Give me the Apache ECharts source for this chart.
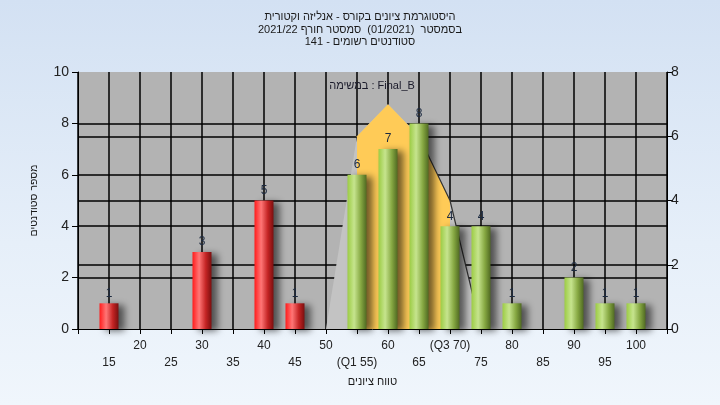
<!DOCTYPE html>
<html>
<head>
<meta charset="utf-8">
<script src="https://cdn.jsdelivr.net/npm/echarts@6/dist/echarts.min.js"></script>
<style>
html,body{margin:0;padding:0;}
#c{width:720px;height:405px;background:linear-gradient(to bottom,#d3e1f3 0%,#e6eff9 60%,#f0f6fc 100%);}
</style>
</head>
<body>
<div id="c"></div>
<script>
// ---- data ----
const titleLines = ['היסטוגרמת ציונים בקורס - אנליזה וקטורית', 'בסמסטר  (01/2021)  סמסטר חורף 2021/22', 'סטודנטים רשומים - 141'];
const taskLabel = 'במשימה : Final_B';
const xAxisName = 'טווח ציונים';
const yAxisName = 'מספר סטודנטים';
const xTicks = [15, 20, 25, 30, 35, 40, 45, 50, 55, 60, 65, 70, 75, 80, 85, 90, 95, 100];
const xTickLabels = ['15', '20', '25', '30', '35', '40', '45', '50', '(Q1 55)', '60', '65', '(Q3 70)', '75', '80', '85', '90', '95', '100'];
const redBins = [15, 30, 40, 45];
const redCounts = [1, 3, 5, 1];
const greenBins = [55, 60, 65, 70, 75, 80, 90, 95, 100];
const greenCounts = [6, 7, 8, 4, 4, 1, 2, 1, 1];
const curveX = [50, 55, 60, 65, 70, 75];
const curveY = [0, 6, 7, 6, 4, 0];
const q1 = 55, q3 = 70;

const RTL = s => '\u202B' + s + '\u202C';
const FONT = '"Liberation Sans", Arial, "DejaVu Sans", sans-serif';

function grad(c0, c1, c2, c3) {
  return { type: 'linear', x: 0, y: 0, x2: 1, y2: 0,
    colorStops: [{ offset: 0, color: c0 }, { offset: 0.35, color: c1 }, { offset: 0.7, color: c2 }, { offset: 1, color: c3 }] };
}
const redGrad = grad('#ff1c1c', '#ff7676', '#c42424', '#7a0f0f');
const greenGrad = grad('#9ccc44', '#c6e48e', '#86a842', '#506a22');

const barData = [];
redBins.forEach((x, i) => barData.push({ value: [x, redCounts[i]], itemStyle: { color: redGrad } }));
greenBins.forEach((x, i) => barData.push({ value: [x, greenCounts[i]], itemStyle: { color: greenGrad } }));

const curveAll = curveX.map((x, i) => [x, curveY[i]]);
const curveIQR = curveAll.filter(p => p[0] >= q1 && p[0] <= q3);
const curveEdge = curveAll.filter(p => p[0] >= 65);

const labelMap = {};
xTicks.forEach((t, i) => labelMap[t] = xTickLabels[i]);

const chart = echarts.init(document.getElementById('c'), null, { renderer: 'canvas' });
chart.setOption({
  backgroundColor: 'transparent',
  animation: false,
  textStyle: { fontFamily: FONT },
  title: {
    text: titleLines.map(RTL).join('\n'),
    left: 'center', top: 11, padding: 0,
    textStyle: { fontSize: 11, fontWeight: 'normal', color: '#1a1a1a', lineHeight: 12.5, fontFamily: FONT }
  },
  graphic: [{
    type: 'text', x: 372, y: 86, z: 10,
    style: { text: taskLabel, fontSize: 11, fill: '#1a1a2a', textAlign: 'center', textVerticalAlign: 'middle', fontFamily: FONT }
  }],
  grid: { left: 78, right: 53, top: 72, bottom: 76, show: true, backgroundColor: '#b3b3b3', borderWidth: 0 },
  xAxis: {
    type: 'value', min: 10, max: 105, interval: 5,
    name: RTL(xAxisName), nameLocation: 'middle', nameGap: 47,
    nameTextStyle: { fontSize: 11, color: '#1a1a1a' },
    axisLine: { show: true, lineStyle: { color: '#000', width: 1 } },
    axisTick: { show: true, length: 5, lineStyle: { color: '#000' } },
    axisLabel: {
      margin: 8, fontSize: 12, color: '#222', lineHeight: 17,
      formatter: v => {
        const l = labelMap[v];
        if (l === undefined) return '';
        return (v % 10 === 0) ? l : '\n' + l;
      }
    },
    splitLine: { show: true, lineStyle: { color: '#000', width: 1.5 } }
  },
  yAxis: [{
    type: 'value', min: 0, max: 10, interval: 2, position: 'left',
    name: RTL(yAxisName), nameLocation: 'middle', nameGap: 38, nameRotate: 90,
    nameTextStyle: { fontSize: 10.5, color: '#1a1a1a' },
    axisLine: { show: true, lineStyle: { color: '#000', width: 1 } },
    axisTick: { show: true, length: 6, lineStyle: { color: '#000' } },
    axisLabel: { fontSize: 14, color: '#222', margin: 9 },
    splitLine: { show: true, showMinLine: false, showMaxLine: false, lineStyle: { color: '#000', width: 1.5 } }
  }, {
    type: 'value', min: 0, max: 8, interval: 2, position: 'right',
    axisLine: { show: true, lineStyle: { color: '#000', width: 1 } },
    axisTick: { show: true, length: 6, lineStyle: { color: '#000' } },
    axisLabel: { fontSize: 14, color: '#222', margin: 4 },
    splitLine: { show: true, showMinLine: false, showMaxLine: false, lineStyle: { color: '#000', width: 1.5 } }
  }],
  series: [{
    type: 'line', yAxisIndex: 1, data: curveAll, symbol: 'none', z: 2,
    lineStyle: { width: 0, opacity: 0 },
    areaStyle: { color: '#c3c3c3', opacity: 1 }
  }, {
    type: 'line', yAxisIndex: 1, data: curveIQR, symbol: 'none', z: 2,
    lineStyle: { width: 0, opacity: 0 },
    areaStyle: { color: '#ffcb57', opacity: 1 }
  }, {
    type: 'line', yAxisIndex: 1, data: curveEdge, symbol: 'none', z: 2,
    lineStyle: { width: 1.2, color: '#333' }
  }, {
    type: 'bar', yAxisIndex: 0, data: barData, barWidth: 19, z: 5,
    itemStyle: { shadowColor: 'rgba(0,0,0,0.55)', shadowBlur: 7, shadowOffsetX: 6, shadowOffsetY: 2 },
    label: { show: true, position: 'top', distance: 4, fontSize: 12, color: '#1c2a40', formatter: p => String(p.value[1]) }
  }]
});
</script>
</body>
</html>
